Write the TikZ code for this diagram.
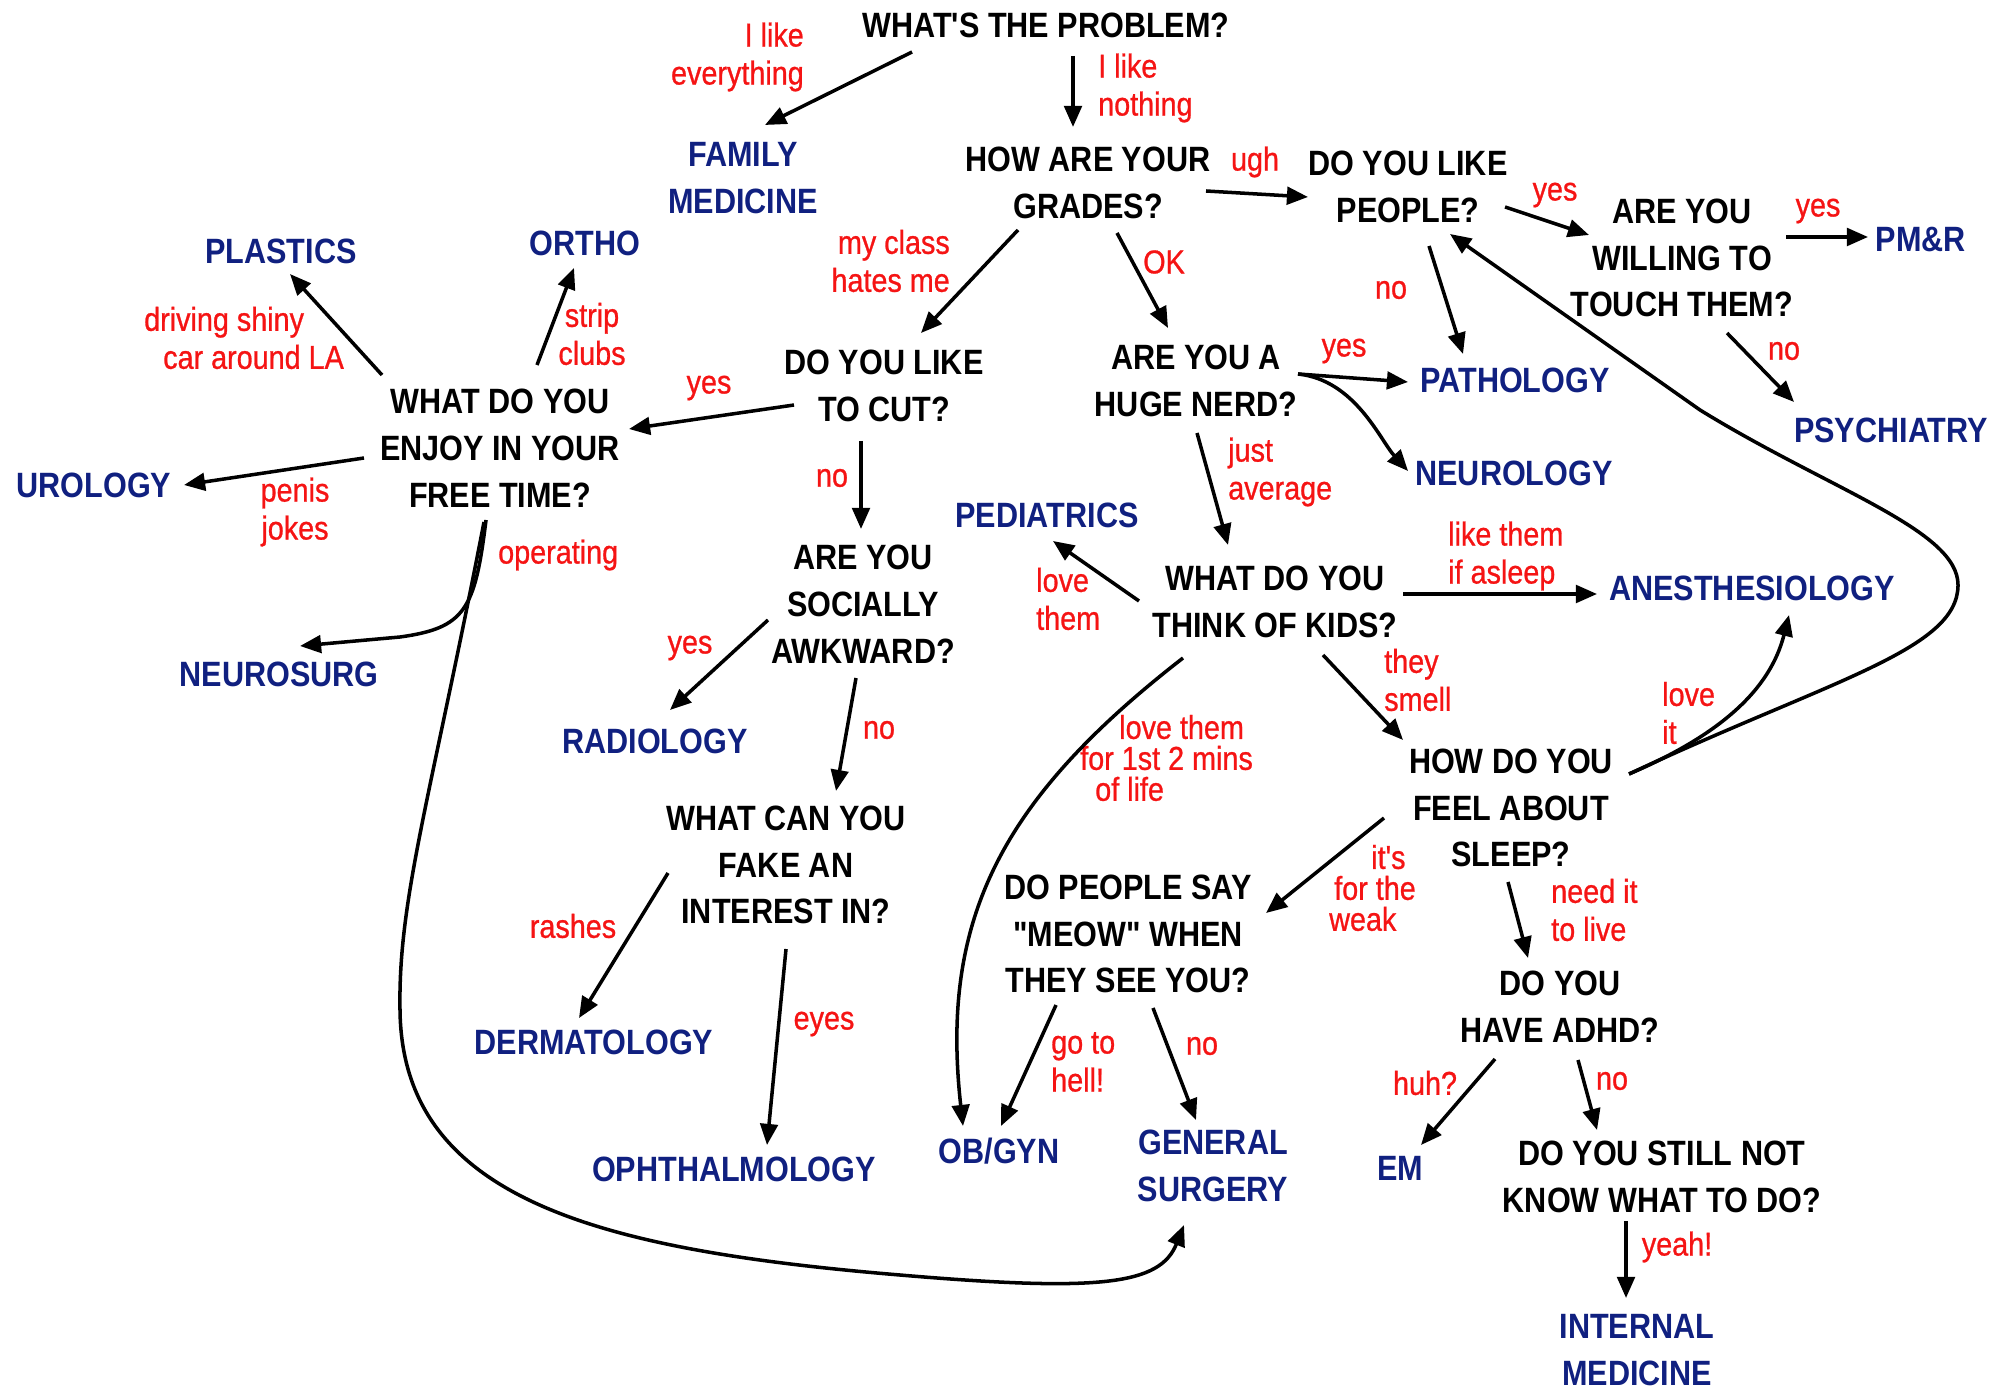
\documentclass[tikz,border=0pt]{standalone}
\usepackage{fontspec}
\setmainfont{Liberation Sans}[FakeStretch=0.87]
\newfontfamily\qfont{Liberation Sans}[FakeStretch=0.87]
\newfontfamily\redfont{Liberation Sans}[FakeStretch=0.87,FakeBold=0.8]
\usetikzlibrary{arrows.meta,calc}
\definecolor{qblue}{RGB}{16,32,128}
\definecolor{qred}{RGB}{245,20,20}
\begin{document}
\begin{tikzpicture}[x=0.01cm,y=-0.01cm,
    q/.style={align=center,inner sep=1pt,font=\fontsize{10}{13.3}\selectfont\qfont\bfseries},
    spec/.style={q,text=qblue},
    ans/.style={align=center,inner sep=1pt,text=qred,font=\fontsize{9.4}{10.8}\selectfont\redfont},
    arr/.style={line width=1pt,-{Triangle[length=6pt,width=5pt]}}]
    \useasboundingbox (0,0) rectangle (1995,1392);
    \node[q] (problem) at (1046,25) {WHAT'S THE PROBLEM?};
    \node[q] (grades) at (1088,183) {HOW ARE YOUR\\GRADES?};
    \node[q] (people) at (1408,187) {DO YOU LIKE\\PEOPLE?};
    \node[q] (touch) at (1682,258) {ARE YOU\\WILLING TO\\TOUCH THEM?};
    \node[q] (cut) at (884,386) {DO YOU LIKE\\TO CUT?};
    \node[q] (nerd) at (1196,381) {ARE YOU A\\HUGE NERD?};
    \node[q] (freetime) at (500,448) {WHAT DO YOU\\ENJOY IN YOUR\\FREE TIME?};
    \node[q] (awkward) at (863,604) {ARE YOU\\SOCIALLY\\AWKWARD?};
    \node[q] (kids) at (1275,602) {WHAT DO YOU\\THINK OF KIDS?};
    \node[q] (sleep) at (1511,808) {HOW DO YOU\\FEEL ABOUT\\SLEEP?};
    \node[q] (fake) at (786,865) {WHAT CAN YOU\\FAKE AN\\INTEREST IN?};
    \node[q] (meow) at (1128,934) {DO PEOPLE SAY\\"MEOW" WHEN\\THEY SEE YOU?};
    \node[q] (adhd) at (1560,1007) {DO YOU\\HAVE ADHD?};
    \node[q] (still) at (1662,1177) {DO YOU STILL NOT\\KNOW WHAT TO DO?};

    \node[spec] (family) at (743,178) {FAMILY\\MEDICINE};
    \node[spec] (plastics) at (281,251) {PLASTICS};
    \node[spec] (ortho) at (585,243) {ORTHO};
    \node[spec] (urology) at (94,485) {UROLOGY};
    \node[spec] (neurosurg) at (279,674) {NEUROSURG};
    \node[spec] (radiology) at (655,741) {RADIOLOGY};
    \node[spec] (derm) at (594,1042) {DERMATOLOGY};
    \node[spec] (ophth) at (734,1169) {OPHTHALMOLOGY};
    \node[spec] (obgyn) at (999,1151) {OB/GYN};
    \node[spec] (gensurg) at (1213,1166) {GENERAL\\SURGERY};
    \node[spec] (em) at (1400,1168) {EM};
    \node[spec] (internal) at (1637,1350) {INTERNAL\\MEDICINE};
    \node[spec] (pediatrics) at (1047,515) {PEDIATRICS};
    \node[spec] (pathology) at (1515,380) {PATHOLOGY};
    \node[spec] (neurology) at (1514,473) {NEUROLOGY};
    \node[spec] (anesth) at (1752,588) {ANESTHESIOLOGY};
    \node[spec] (pmr) at (1921,240) {PM\&R};
    \node[spec] (psych) at (1891,430) {PSYCHIATRY};

    \node[ans,align=right,anchor=east] (likeall) at (808,57) {I like\\everything};
    \node[ans,align=left,anchor=west] (likenone) at (1094,88) {I like\\nothing};
    \node[ans] (ugh) at (1255,162) {ugh};
    \node[ans] (yespeople) at (1555,195) {yes};
    \node[ans] (yestouch) at (1818,211) {yes};
    \node[ans] (notouch) at (1784,351) {no};
    \node[ans] (nopeople) at (1391,290) {no};
    \node[ans] (ok) at (1164,262) {OK};
    \node[ans,align=right,anchor=east] (hates) at (954,261) {my class\\hates me};
    \node[ans] (yesnerd) at (1344,351) {yes};
    \node[ans,align=left,anchor=west] (average) at (1224,472) {just\\average};
    \node[ans,align=left,anchor=west] (driving) at (140,338) {driving shiny\\\hspace{0.19cm}car around LA};
    \node[ans] (strip) at (592,334) {strip\\clubs};
    \node[ans] (yescut) at (709,388) {yes};
    \node[ans] (penis) at (295,512) {penis\\jokes};
    \node[ans,anchor=west] (operating) at (494,555) {operating};
    \node[ans] (nocut) at (832,478) {no};
    \node[ans,align=left,anchor=west] (lovethem) at (1032,599) {love\\them};
    \node[ans,align=left,anchor=west] (asleep) at (1444,556) {like them\\if asleep};
    \node[ans,align=left,anchor=west] (smell) at (1380,680) {they\\smell};
    \node[ans,align=left,anchor=west,font=\fontsize{9.4}{8.8}\selectfont\redfont] (firstmins) at (1076,758)
        {\hspace{0.39cm}love them\\for 1st 2 mins\\\hspace{0.15cm}of life};
    \node[ans] (yesawk) at (690,648) {yes};
    \node[ans] (noawk) at (879,730) {no};
    \node[ans,align=left,anchor=west] (loveit) at (1658,713) {love\\it};
    \node[ans,align=left,anchor=west,font=\fontsize{9.4}{8.8}\selectfont\redfont] (weak) at (1325,888)
        {\hspace{0.42cm}it's\\\hspace{0.05cm}for the\\weak};
    \node[ans,align=left,anchor=west] (needit) at (1547,910) {need it\\to live};
    \node[ans] (rashes) at (573,926) {rashes};
    \node[ans] (eyes) at (824,1024) {eyes};
    \node[ans,align=left,anchor=west] (gohell) at (1047,1062) {go to\\hell!};
    \node[ans] (nomeow) at (1202,1046) {no};
    \node[ans] (huh) at (1425,1083) {huh?};
    \node[ans] (noadhd) at (1612,1081) {no};
    \node[ans] (yeah) at (1677,1247) {yeah!};

    \draw[arr] ($(problem)+(-134,27)$) -- ($(family)+(22,-53)$);
    \draw[arr] ($(problem)+(27,31)$) -- ($(grades)+(-15,-56)$);
    \draw[arr] ($(grades)+(118,8)$) -- ($(people)+(-100,10)$);
    \draw[arr] ($(people)+(97,20)$) -- ($(touch)+(-93,-23)$);
    \draw[arr] ($(touch)+(104,-21)$) -- ($(pmr)+(-53,-3)$);
    \draw[arr] ($(touch)+(45,75)$) -- ($(psych)+(-97,-28)$);
    \draw[arr] ($(people)+(21,59)$) -- ($(pathology)+(-52,-26)$);
    \draw[arr] ($(grades)+(29,50)$) -- ($(nerd)+(-28,-53)$);
    \draw[arr] ($(grades)+(-70,47)$) -- ($(cut)+(37,-53)$);
    \draw[arr] ($(nerd)+(102,-7)$) -- ($(pathology)+(-107,2)$);
    \draw[arr] ($(nerd)+(102,-7)$) .. controls (1355,380) and (1380,440) .. ($(neurology)+(-106,-2)$);
    \draw[arr] ($(nerd)+(1,52)$) -- ($(kids)+(-47,-57)$);
    \draw[arr] ($(cut)+(-90,19)$) -- ($(freetime)+(129,-19)$);
    \draw[arr] ($(cut)+(-23,55)$) -- ($(awkward)+(-2,-75)$);
    \draw[arr] ($(freetime)+(-118,-73)$) -- ($(plastics)+(9,23)$);
    \draw[arr] ($(freetime)+(37,-83)$) -- ($(ortho)+(-11,25)$);
    \draw[arr] ($(freetime)+(-136,10)$) -- ($(urology)+(90,0)$);
    \draw[arr] ($(freetime)+(-14,72)$) .. controls (475,610) and (465,628) .. (400,637) -- ($(neurosurg)+(21,-28)$);
    \draw[arr] ($(freetime)+(-16,74)$) .. controls (430,800) and (398,900) .. (400,1010)
        .. controls (402,1200) and (600,1250) .. (900,1275)
        .. controls (1100,1292) and (1160,1285) .. ($(gensurg)+(-29,59)$);
    \draw[arr] ($(awkward)+(-95,16)$) -- ($(radiology)+(15,-31)$);
    \draw[arr] ($(awkward)+(-7,74)$) -- ($(fake)+(50,-74)$);
    \draw[arr] ($(fake)+(-118,8)$) -- ($(derm)+(-15,-24)$);
    \draw[arr] ($(fake)+(0,84)$) -- ($(ophth)+(33,-24)$);
    \draw[arr] ($(kids)+(-136,-1)$) -- ($(pediatrics)+(6,26)$);
    \draw[arr] ($(kids)+(128,-8)$) -- ($(anesth)+(-155,6)$);
    \draw[arr] ($(kids)+(48,53)$) -- ($(sleep)+(-108,-68)$);
    \draw[arr] ($(kids)+(-92,56)$) .. controls (1000,800) and (940,920) .. ($(obgyn)+(-36,-25)$);
    \draw[arr] ($(sleep)+(118,-34)$) .. controls (1720,735) and (1770,690) .. ($(anesth)+(37,27)$);
    \draw[arr] ($(sleep)+(118,-34)$) .. controls (1830,680) and (1958,650) .. (1958,585)
        .. controls (1958,530) and (1830,490) .. (1700,410) -- ($(people)+(42,47)$);
    \draw[arr] ($(sleep)+(-127,10)$) -- ($(meow)+(138,-21)$);
    \draw[arr] ($(sleep)+(-3,74)$) -- ($(adhd)+(-32,-49)$);
    \draw[arr] ($(adhd)+(-65,52)$) -- ($(em)+(21,-23)$);
    \draw[arr] ($(adhd)+(18,53)$) -- ($(still)+(-65,-47)$);
    \draw[arr] ($(meow)+(-72,71)$) -- ($(obgyn)+(2,-25)$);
    \draw[arr] ($(meow)+(25,74)$) -- ($(gensurg)+(-17,-46)$);
    \draw[arr] ($(still)+(-36,44)$) -- ($(internal)+(-11,-52)$);
\end{tikzpicture}
\end{document}
